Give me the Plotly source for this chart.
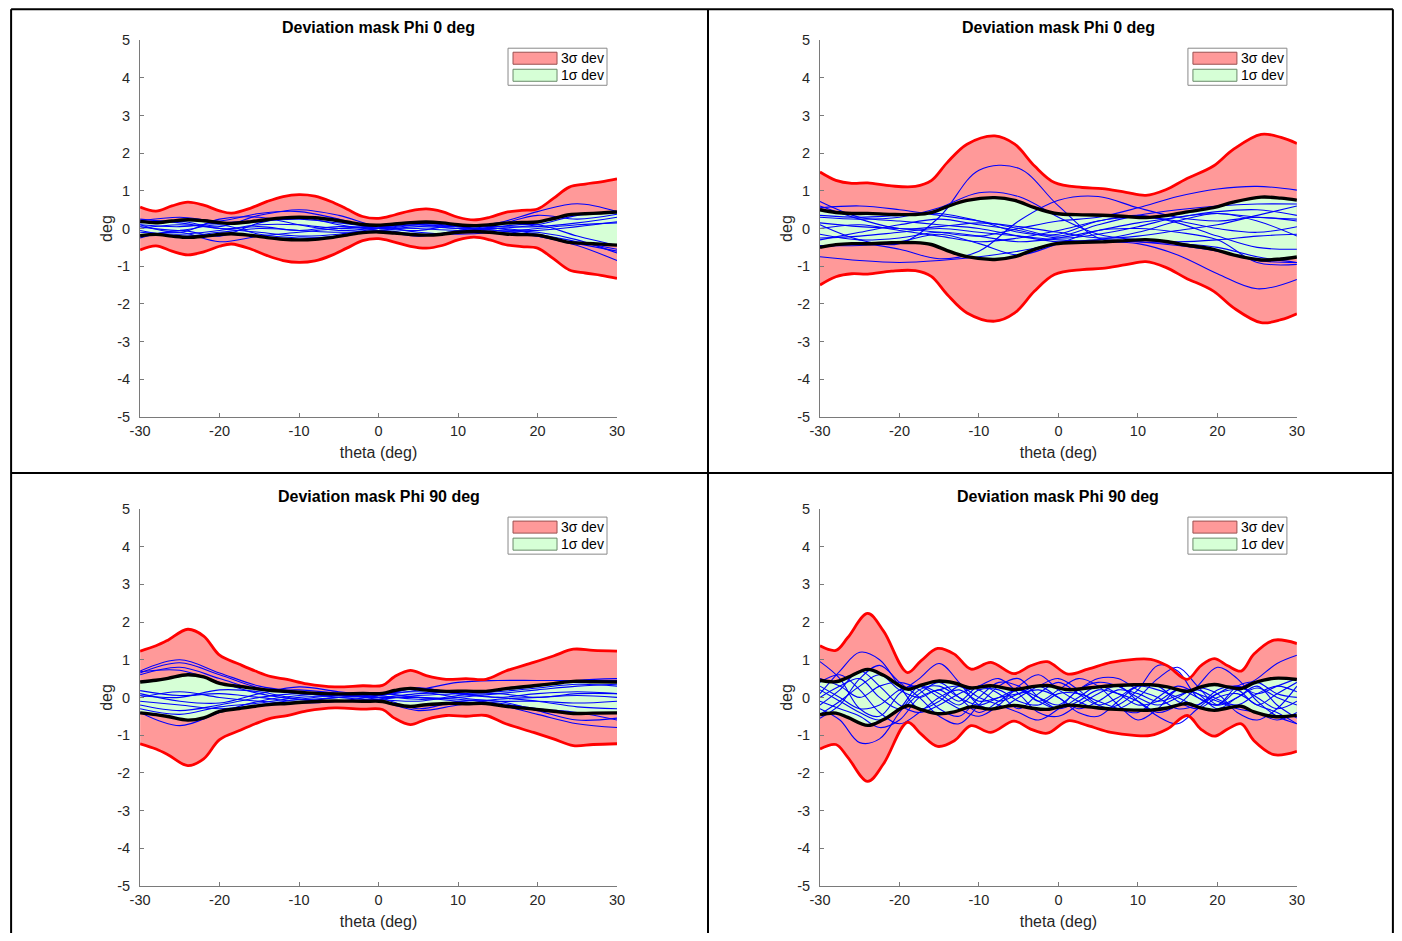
import plotly.graph_objects as go

PAGE_W, PAGE_H = 1402, 941
PAD = 8                       # default body margin of the html page
W, H = PAGE_W - 2 * PAD, PAGE_H - 2 * PAD
# the photographed page appears inset by 9 px and scaled to fit; compensate
INSET = 9
SX = PAGE_W / (PAGE_W - 2 * INSET)
SY = PAGE_H / (PAGE_H - 2 * INSET)

# ---------------- data ----------------
theta_ticks = [-30, -20, -10, 0, 10, 20, 30]
theta_tick_labels = ["-30", "-20", "-10", "0", "10", "20", "30"]
deg_ticks = [-5, -4, -3, -2, -1, 0, 1, 2, 3, 4, 5]
deg_tick_labels = ["-5", "-4", "-3", "-2", "-1", "0", "1", "2", "3", "4", "5"]

titles = ["Deviation mask Phi 0 deg", "Deviation mask Phi 0 deg",
          "Deviation mask Phi 90 deg", "Deviation mask Phi 90 deg"]
legend_labels = ["3σ dev", "1σ dev"]

# 3-sigma envelope (deg) for each panel
env_theta_1 = [-30, -28, -26, -24, -22, -20, -18.5, -16, -14, -12, -10, -8, -6, -4, -2, 0,
               2, 4, 6, 8, 10, 12, 14, 16, 18, 20, 22, 24, 26, 28, 30]
env_3sig_1 = [0.57, 0.46, 0.60, 0.70, 0.62, 0.47, 0.41, 0.55, 0.72, 0.85, 0.90, 0.86, 0.72, 0.52, 0.32, 0.27,
              0.36, 0.47, 0.52, 0.45, 0.30, 0.23, 0.30, 0.43, 0.48, 0.52, 0.80, 1.10, 1.18, 1.24, 1.32]

env_theta_2 = [-30, -28, -26, -24, -21, -18, -16, -14, -11.5, -8, -5.5, -3, -0.5, 3, 5.5, 8.5,
               11, 13.5, 16, 19.5, 22, 25.5, 28, 30]
env_3sig_2 = [1.50, 1.28, 1.20, 1.21, 1.13, 1.12, 1.27, 1.75, 2.24, 2.46, 2.24, 1.66, 1.22, 1.09, 1.06, 0.96,
              0.88, 1.03, 1.31, 1.66, 2.10, 2.50, 2.42, 2.26]

env_theta_3 = [-30, -28, -26.5, -24, -22, -20, -17.5, -15.5, -13.5, -11.5, -9, -5.5, -2, 0.5, 2, 4,
               6, 8.5, 11, 13.5, 16, 19.5, 22, 24.5, 27, 30]
env_3sig_3 = [1.23, 1.37, 1.52, 1.81, 1.63, 1.12, 0.88, 0.70, 0.55, 0.48, 0.36, 0.28, 0.31, 0.32, 0.55, 0.72,
              0.58, 0.48, 0.50, 0.48, 0.70, 0.93, 1.10, 1.28, 1.25, 1.23]

env_theta_4 = [-30, -28, -26.5, -24, -22, -19, -17.3, -15.2, -13.1, -11, -8.5, -5.6, -3.5, -1.4,
               1.2, 3.7, 6.6, 9.5, 11.6, 13.7, 16.2, 17.9, 19.6, 21.3, 23, 24.6, 27.1, 30]
env_3sig_4 = [1.37, 1.25, 1.59, 2.23, 1.76, 0.66, 0.97, 1.30, 1.15, 0.75, 0.93, 0.63, 0.84, 0.95,
              0.62, 0.75, 0.93, 1.01, 1.01, 0.84, 0.48, 0.84, 1.03, 0.84, 0.70, 1.15, 1.52, 1.43]

# individual measured deviation curves (deg)
curve_theta_5 = [-30, -25, -20, -15, -10, -5, 0, 5, 10, 15, 20, 25, 30]
curves_1 = [
    [0.25, 0.15, 0.05, 0.35, 0.50, 0.35, 0.05, 0.00, -0.05, 0.00, 0.10, 0.35, 0.45],
    [0.20, 0.30, 0.20, 0.40, 0.45, 0.25, 0.00, 0.10, 0.05, 0.15, 0.45, 0.66, 0.45],
    [0.10, 0.05, 0.15, 0.20, 0.25, 0.15, 0.05, 0.15, 0.10, 0.00, -0.15, -0.35, -0.55],
    [-0.05, -0.20, -0.10, 0.00, -0.05, -0.10, -0.05, 0.05, 0.00, -0.05, -0.10, -0.30, -0.65],
    [0.00, 0.10, 0.00, -0.10, -0.20, -0.15, 0.00, 0.10, 0.05, -0.05, -0.20, -0.45, -0.85],
    [-0.20, -0.10, -0.35, -0.20, -0.10, 0.00, 0.05, -0.10, -0.15, -0.10, 0.00, 0.10, 0.15],
    [0.15, 0.20, 0.00, 0.05, -0.05, 0.05, 0.00, -0.05, 0.10, 0.05, 0.05, 0.15, 0.30],
    [-0.10, -0.15, -0.05, 0.10, 0.10, 0.00, 0.05, 0.10, 0.00, 0.00, -0.05, 0.05, 0.18],
    [0.05, -0.05, 0.10, -0.15, -0.25, -0.20, -0.05, -0.15, -0.10, 0.05, 0.10, -0.20, -0.45],
    [-0.25, -0.05, -0.20, 0.15, 0.30, 0.10, -0.05, -0.20, -0.05, 0.10, 0.35, 0.25, 0.38],
    [0.10, -0.10, 0.25, 0.30, 0.10, -0.05, 0.02, 0.15, 0.05, -0.10, -0.20, -0.40, -0.60],
]
curves_2 = [
    [0.10, -0.30, -0.40, 0.30, 1.55, 1.60, 0.60, -0.25, -0.35, -0.40, -0.50, -0.75, -0.90],
    [0.30, 0.25, 0.30, 0.55, 0.95, 0.85, 0.30, -0.15, -0.30, -0.35, -0.30, -0.20, -0.15],
    [-0.50, -0.40, -0.55, -0.80, -0.60, 0.20, 0.75, 0.85, 0.55, 0.30, 0.20, 0.30, 0.20],
    [0.15, 0.05, 0.00, -0.10, -0.20, 0.00, 0.20, 0.30, 0.55, 0.85, 1.05, 1.12, 1.02],
    [-0.25, -0.20, -0.10, 0.00, -0.10, -0.20, -0.30, -0.35, -0.40, -0.70, -1.20, -1.60, -1.35],
    [-0.75, -0.85, -0.90, -0.85, -0.75, -0.60, -0.40, -0.30, -0.35, -0.45, -0.60, -0.85, -0.90],
    [0.72, 0.30, 0.20, 0.10, 0.00, -0.20, -0.35, -0.30, -0.10, 0.20, 0.40, 0.20, -0.20],
    [0.55, 0.60, 0.50, 0.35, 0.20, 0.00, -0.20, 0.10, 0.35, 0.50, 0.60, 0.65, 0.65],
    [0.35, 0.30, 0.35, 0.40, 0.20, -0.10, -0.15, 0.20, 0.30, 0.20, 0.00, -0.10, 0.05],
    [-0.30, -0.10, 0.10, 0.25, 0.10, -0.05, -0.25, -0.15, 0.05, 0.30, 0.40, 0.30, 0.25],
    [0.00, 0.10, -0.05, -0.20, -0.35, -0.25, -0.05, 0.20, 0.35, 0.15, -0.20, -0.50, -0.55],
    [-0.15, -0.30, -0.25, -0.10, -0.20, -0.35, -0.25, -0.05, 0.15, 0.30, 0.45, 0.50, 0.35],
    [0.60, 0.25, 0.00, 0.05, 0.15, 0.05, -0.10, -0.25, -0.20, -0.05, 0.10, 0.35, 0.60],
    [-0.45, -0.45, -0.35, -0.15, -0.40, -0.70, -0.40, -0.05, 0.00, -0.10, -0.30, -0.90, -0.95],
]
curves_3 = [
    [0.70, 1.00, 0.65, 0.30, 0.15, 0.05, 0.00, 0.10, 0.15, 0.20, 0.30, 0.45, 0.50],
    [0.65, 0.92, 0.60, 0.25, 0.10, 0.05, 0.05, 0.25, 0.10, 0.00, -0.10, -0.25, -0.30],
    [0.60, 0.80, 0.50, 0.20, 0.20, 0.10, -0.05, -0.10, 0.05, 0.10, 0.00, 0.10, 0.10],
    [0.68, 0.72, 0.40, 0.10, -0.05, 0.00, 0.10, 0.00, -0.10, -0.20, -0.45, -0.70, -0.80],
    [-0.40, -0.75, -0.40, -0.10, 0.05, 0.10, 0.00, -0.30, -0.10, -0.10, -0.35, -0.60, -0.55],
    [0.18, 0.05, 0.10, 0.00, -0.10, 0.00, 0.05, 0.20, 0.40, 0.45, 0.45, 0.45, 0.45],
    [0.10, -0.10, -0.15, 0.10, 0.28, 0.15, 0.05, -0.05, 0.00, 0.10, 0.20, 0.30, 0.35],
    [-0.10, -0.20, -0.30, -0.20, -0.05, 0.05, 0.00, 0.00, -0.05, -0.15, -0.30, -0.40, -0.60],
    [-0.20, -0.35, -0.20, 0.00, 0.10, 0.00, -0.10, -0.35, -0.20, -0.05, 0.00, 0.05, 0.00],
    [0.00, 0.15, 0.00, -0.10, -0.15, -0.10, 0.05, 0.25, 0.10, 0.00, 0.10, 0.15, 0.10],
    [-0.30, -0.45, -0.25, -0.15, 0.00, 0.05, 0.10, 0.15, 0.00, -0.10, -0.10, -0.15, -0.10],
    [0.05, 0.00, 0.20, 0.15, -0.05, -0.10, -0.05, 0.05, 0.10, 0.15, 0.25, 0.35, 0.30],
]
curve_theta_25 = [-30, -27.5, -25, -22.5, -20, -17.5, -15, -12.5, -10, -7.5, -5, -2.5, 0,
                  2.5, 5, 7.5, 10, 12.5, 15, 17.5, 20, 22.5, 25, 27.5, 30]
curves_4 = [
    [0.10, 0.70, 1.20, 1.00, 0.30, -0.30, -0.10, 0.30, 0.20, -0.10, 0.10, 0.30, 0.00, -0.30, -0.10, 0.20, 0.10, -0.10, 0.05, 0.20, -0.05, -0.20, 0.10, 0.30, 0.15],
    [-0.30, -0.60, -1.20, -1.10, -0.40, 0.20, 0.30, 0.00, -0.20, 0.00, 0.20, -0.10, -0.30, 0.00, 0.30, 0.10, -0.20, -0.10, 0.20, 0.10, -0.30, 0.00, 0.25, 0.00, -0.20],
    [0.95, 0.50, -0.30, -0.50, 0.10, 0.50, 0.90, 0.40, -0.20, -0.30, 0.00, 0.30, 0.50, 0.20, -0.20, -0.30, 0.00, 0.50, 0.80, 0.30, -0.20, 0.00, 0.30, -0.20, -0.55],
    [-0.55, -0.20, 0.50, 0.85, 0.40, 0.00, -0.50, -0.70, -0.20, 0.30, 0.50, 0.00, -0.30, -0.10, 0.20, 0.10, -0.10, -0.40, -0.20, 0.30, 0.80, 0.50, -0.10, -0.50, -0.70],
    [0.30, 0.00, -0.30, -0.20, 0.20, 0.30, 0.00, -0.30, -0.50, -0.20, 0.30, 0.60, 0.20, -0.10, -0.30, -0.20, 0.20, 0.85, 0.70, 0.00, -0.20, 0.20, 0.50, 0.90, 1.12],
    [-0.20, 0.20, 0.70, 0.30, -0.20, -0.40, -0.20, 0.10, 0.30, 0.50, 0.10, -0.40, -0.50, -0.20, 0.10, 0.30, -0.10, -0.50, -0.70, -0.30, 0.10, 0.30, 0.00, -0.30, -0.10],
    [0.50, 0.30, 0.00, 0.30, 0.40, 0.20, -0.30, -0.50, 0.00, 0.40, 0.30, -0.10, 0.20, 0.50, 0.30, -0.20, -0.60, -0.30, 0.20, 0.00, -0.20, 0.30, 0.40, 0.10, 0.00],
    [-0.10, -0.30, -0.50, -0.80, -0.60, 0.00, 0.20, 0.30, 0.00, -0.20, -0.40, -0.60, -0.30, 0.20, 0.40, 0.30, 0.00, -0.20, 0.00, 0.25, 0.10, -0.40, -0.60, -0.30, 0.30],
    [0.00, 0.30, 0.50, 0.00, -0.30, 0.10, 0.40, 0.00, -0.40, -0.10, 0.20, 0.00, -0.20, 0.20, 0.50, 0.50, 0.20, 0.00, -0.30, -0.20, 0.10, 0.20, -0.20, 0.10, 0.40],
    [0.20, -0.10, -0.40, -0.60, -0.30, 0.30, 0.10, -0.20, 0.20, 0.20, -0.10, -0.20, 0.10, 0.10, -0.10, -0.30, -0.40, 0.00, 0.30, 0.10, -0.10, -0.30, -0.40, -0.60, -0.40],
    [-0.45, -0.10, 0.30, 0.60, 0.20, 0.00, 0.20, -0.10, 0.30, 0.10, -0.30, 0.10, 0.40, 0.10, -0.20, 0.00, 0.30, 0.20, 0.00, -0.20, 0.20, 0.30, 0.10, 0.30, 0.50],
    [0.40, 0.60, 0.20, -0.40, -0.70, -0.40, 0.00, 0.20, -0.10, 0.00, 0.10, 0.20, 0.00, -0.40, -0.50, -0.10, 0.30, 0.30, -0.10, -0.30, 0.00, 0.10, -0.20, -0.40, -0.70],
]

panels = [
    (env_theta_1, env_3sig_1, curve_theta_5, curves_1),
    (env_theta_2, env_3sig_2, curve_theta_5, curves_2),
    (env_theta_3, env_3sig_3, curve_theta_5, curves_3),
    (env_theta_4, env_3sig_4, curve_theta_25, curves_4),
]

# ---------------- styling ----------------
FONT = "Liberation Sans, Arial, sans-serif"
TXT = "#262626"
RED_FILL = "rgb(255,153,153)"
GREEN_FILL = "rgb(214,255,214)"
# target pixel offsets of each panel
offsets = [(0, 0), (680, 0), (0, 468), (680, 468)]
AX_L, AX_R, AX_T, AX_B = 139, 616, 41, 417


def px(x):
    """target pixel x -> paper fraction"""
    return ((x - INSET) * SX - PAD) / W


def py(y):
    """target pixel y -> paper fraction"""
    return 1 - ((y - INSET) * SY - PAD) / H


fig = go.Figure()
layout = dict(
    width=W, height=H, margin=dict(l=0, r=0, t=0, b=0),
    paper_bgcolor="white", plot_bgcolor="white", showlegend=False,
    font=dict(family=FONT, size=14, color=TXT),
)
shapes = []
annotations = []

for i, (env_t, env_s3, ct, curves) in enumerate(panels):
    k = i + 1
    xa = "x" if k == 1 else f"x{k}"
    ya = "y" if k == 1 else f"y{k}"
    dx, dy = offsets[i]
    up3 = env_s3
    lo3 = [-v for v in env_s3]
    up1 = [v / 3 for v in env_s3]
    lo1 = [-v / 3 for v in env_s3]
    sp = dict(shape="spline", smoothing=1.0)

    fig.add_trace(go.Scatter(x=env_t, y=lo3, xaxis=xa, yaxis=ya, mode="lines",
                             line=dict(width=0, **sp), hoverinfo="skip"))
    fig.add_trace(go.Scatter(x=env_t, y=up3, xaxis=xa, yaxis=ya, mode="lines",
                             line=dict(width=0, **sp), fill="tonexty", fillcolor=RED_FILL,
                             name=legend_labels[0]))
    fig.add_trace(go.Scatter(x=env_t, y=lo1, xaxis=xa, yaxis=ya, mode="lines",
                             line=dict(width=0, **sp), hoverinfo="skip"))
    fig.add_trace(go.Scatter(x=env_t, y=up1, xaxis=xa, yaxis=ya, mode="lines",
                             line=dict(width=0, **sp), fill="tonexty", fillcolor=GREEN_FILL,
                             name=legend_labels[1]))
    for c in curves:
        fig.add_trace(go.Scatter(x=ct, y=c, xaxis=xa, yaxis=ya, mode="lines",
                                 line=dict(color="#0000FF", width=1.1, **sp)))
    for yy in (up1, lo1):
        fig.add_trace(go.Scatter(x=env_t, y=yy, xaxis=xa, yaxis=ya, mode="lines",
                                 line=dict(color="black", width=3.4, **sp)))
    for yy in (up3, lo3):
        fig.add_trace(go.Scatter(x=env_t, y=yy, xaxis=xa, yaxis=ya, mode="lines",
                                 line=dict(color="#FF0000", width=2.8, **sp)))

    xdom = [px(AX_L + dx), px(AX_R + dx)]
    ydom = [py(AX_B + dy), py(AX_T + dy)]
    axis_common = dict(showline=True, linecolor="#7a7a7a", linewidth=1, ticks="inside",
                       ticklen=4, tickcolor="#7a7a7a", showgrid=False, zeroline=False,
                       tickfont=dict(family=FONT, size=14.5, color=TXT))
    layout["xaxis" if k == 1 else f"xaxis{k}"] = dict(
        domain=xdom, anchor=ya, range=[-30, 30], tickvals=theta_ticks,
        ticktext=theta_tick_labels, ticklabelstandoff=1,
        title=dict(text="theta (deg)", standoff=8,
                   font=dict(family=FONT, size=16, color=TXT)),
        **axis_common)
    layout["yaxis" if k == 1 else f"yaxis{k}"] = dict(
        domain=ydom, anchor=xa, range=[-5, 5], tickvals=deg_ticks,
        ticktext=deg_tick_labels, ticklabelstandoff=6,
        title=dict(text="deg", standoff=0,
                   font=dict(family=FONT, size=16, color=TXT)),
        **axis_common)

    # title
    annotations.append(dict(x=px((AX_L + AX_R) / 2 + dx), y=py(28 + dy), xref="paper",
                            yref="paper", text="<b>" + titles[i] + "</b>", showarrow=False,
                            xanchor="center", yanchor="middle",
                            font=dict(family=FONT, size=16, color="black")))
    # legend box
    shapes.append(dict(type="rect", xref="paper", yref="paper",
                       x0=px(507 + dx), x1=px(606 + dx), y0=py(86 + dy), y1=py(49 + dy),
                       line=dict(color="#8a8a8a", width=1), fillcolor="white"))
    shapes.append(dict(type="rect", xref="paper", yref="paper",
                       x0=px(512 + dx), x1=px(556 + dx), y0=py(65 + dy), y1=py(53 + dy),
                       line=dict(color="#9a5050", width=1), fillcolor=RED_FILL))
    shapes.append(dict(type="rect", xref="paper", yref="paper",
                       x0=px(512 + dx), x1=px(556 + dx), y0=py(82 + dy), y1=py(70 + dy),
                       line=dict(color="#6a8a6a", width=1), fillcolor=GREEN_FILL))
    for lbl, yy in zip(legend_labels, (59, 76)):
        annotations.append(dict(x=px(558 + dx), y=py(yy + dy), xref="paper", yref="paper",
                                text=lbl, showarrow=False, xanchor="left", yanchor="middle",
                                font=dict(family=FONT, size=14, color="black")))

# figure frame lines (target pixel coordinates)
for (x0, y0, x1, y1) in [(10, 10, 10, 941), (707, 10, 707, 941), (1392, 10, 1392, 941),
                         (10, 10, 1392, 10), (10, 473, 1392, 473)]:
    shapes.append(dict(type="line", xref="paper", yref="paper", x0=px(x0), y0=py(y0),
                       x1=px(x1), y1=py(y1), line=dict(color="black", width=2)))

layout["shapes"] = shapes
layout["annotations"] = annotations
fig.update_layout(**layout)
fig.write_html("out.html", config={"displayModeBar": False})
